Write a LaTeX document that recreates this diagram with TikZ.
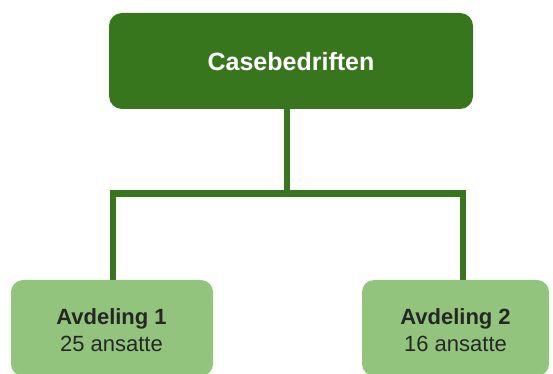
\documentclass[tikz,border=0pt]{standalone}
\usepackage{fontspec}
\setmainfont{Liberation Sans}
\definecolor{darkgreen}{HTML}{38761D}
\definecolor{lightgreen}{HTML}{93C47D}
\begin{document}
\begin{tikzpicture}[x=1pt,y=1pt,
  topbox/.style={fill=darkgreen, rounded corners=13pt, minimum width=364pt, minimum height=96pt, inner sep=0pt},
  leafbox/.style={fill=lightgreen, rounded corners=12pt, minimum height=96pt, inner sep=0pt},
  conn/.style={draw=darkgreen, line width=6.5pt, line join=miter},
  toptext/.style={font=\fontsize{25}{30}\selectfont\bfseries, text=white, anchor=base, inner sep=0pt},
  leaftext/.style={font=\fontsize{22}{27}\selectfont, text=black!85, anchor=base, inner sep=0pt}]
\useasboundingbox (0,0) rectangle (553,374);
\node[topbox] (top) at (291,313) {};
\node[toptext] (toplabel) at (291,303) {Casebedriften};
\node[leafbox, minimum width=202pt] (a1) at (112,46) {};
\node[leafbox, minimum width=187pt] (a2) at (455.5,46) {};
\node[leaftext, font=\fontsize{22}{27}\selectfont\bfseries] (a1title) at (111.5,49) {Avdeling 1};
\node[leaftext] (a1count) at (111.5,22) {25 ansatte};
\node[leaftext, font=\fontsize{22}{27}\selectfont\bfseries] (a2title) at (455.5,49) {Avdeling 2};
\node[leaftext] (a2count) at (455.5,22) {16 ansatte};
\coordinate (j) at (287,180.5);
\coordinate (l) at (113,180.5);
\coordinate (r) at (463,180.5);
\draw[conn] (j |- top.south) -- (j);
\draw[conn] (l |- a1.north) -- (l) -- (r) -- (r |- a2.north);
\end{tikzpicture}
\end{document}
